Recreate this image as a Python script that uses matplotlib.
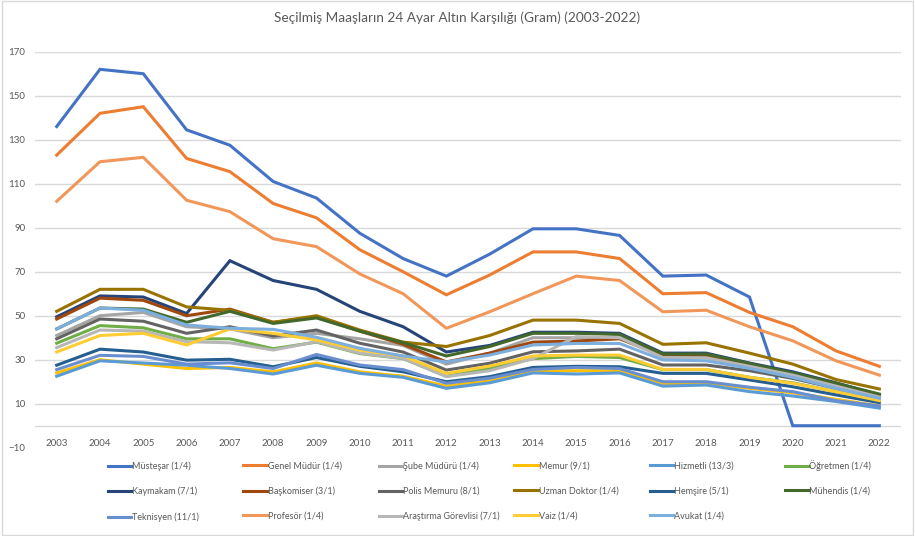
import matplotlib
matplotlib.use("Agg")
import matplotlib.pyplot as plt
from matplotlib.patches import Rectangle

plt.rcParams["font.family"] = ["Lato", "DejaVu Sans"]

years = [str(y) for y in range(2003, 2023)]

series_names = [
    "Müsteşar (1/4)", "Genel Müdür (1/4)", "Şube Müdürü (1/4)", "Memur (9/1)",
    "Hizmetli (13/3)", "Öğretmen (1/4)", "Kaymakam (7/1)", "Başkomiser (3/1)",
    "Polis Memuru (8/1)", "Uzman Doktor (1/4)", "Hemşire (5/1)", "Mühendis (1/4)",
    "Teknisyen (11/1)", "Profesör (1/4)", "Araştırma Görevlisi (7/1)", "Vaiz (1/4)",
    "Avukat (1/4)",
]

mustesar = [136, 162, 160, 134.5, 127.5, 111, 103.5, 87.5, 76, 68, 78, 89.5, 89.5, 86.5, 68, 68.5, 58.5, 0, 0, 0]
genel_mudur = [123, 142, 145, 121.5, 115.5, 101, 94.5, 80, 70, 59.5, 68.5, 79, 79, 76, 60, 60.5, 51.5, 45, 34, 27]
sube_muduru = [41, 50, 51.5, 45, 44, 40, 42, 39.5, 36.5, 28, 33, 40, 40, 40, 31.5, 31, 27, 23, 18, 13]
memur = [24, 30, 28, 26, 26.5, 24.5, 28.5, 24.5, 22.5, 18, 20.5, 25, 25, 25, 19, 19.5, 17, 15, 12, 9]
hizmetli = [22.5, 29.5, 28.5, 27.5, 26, 23.5, 27.5, 23.8, 22, 17, 19.5, 24, 23.5, 24, 18, 18.5, 15.5, 13.5, 11, 8]
ogretmen = [37.5, 45.5, 44.5, 39.5, 39.5, 35, 38, 32.8, 30.5, 22.5, 26, 30.5, 31.5, 31, 25.5, 25.5, 22, 19.5, 15.5, 11.5]
kaymakam = [49.5, 59, 58.5, 51, 75, 66, 62, 52, 45, 33.5, 36.5, 42.5, 42.5, 42, 33, 33, 28.5, 24.5, 19.5, 14]
baskomiser = [48.5, 58, 57, 50, 53, 47, 49.5, 43, 37, 29, 33, 38, 38.5, 39.5, 31.8, 31.8, 27.5, 23.5, 18.5, 13.5]
polis_memuru = [39.5, 48.5, 47.5, 42, 45, 40.8, 43.5, 37.5, 33.5, 25.3, 28.4, 33.6, 34, 34.8, 27.6, 27.6, 25, 21.5, 17, 12.5]
uzman_doktor = [52, 62, 62, 54, 52.5, 47, 50, 43.5, 38, 36, 41, 48, 48, 46.5, 37, 37.7, 33, 28, 21, 16.7]
hemsire = [27.5, 34.8, 33.5, 29.8, 30.2, 26.8, 31, 27, 24.5, 20, 22.3, 26.5, 27, 26.8, 23.8, 23.8, 20.8, 17.7, 14, 10.5]
muhendis = [44, 53.5, 53, 47, 52, 46.5, 49, 43, 37.8, 31.7, 36, 42, 42, 41.5, 32.6, 32.6, 28.3, 24, 19.3, 14.4]
teknisyen = [25.5, 32, 31.5, 28, 28.6, 26, 32.4, 27.6, 25.5, 19.3, 21.6, 25.6, 26.5, 26, 20, 20, 17.5, 15.5, 11.4, 9]
profesor = [102, 120, 122, 102.5, 97.3, 85, 81.4, 69, 60, 44.3, 51.8, 60, 68, 66, 51.8, 52.5, 45, 38.6, 29.5, 23]
arastirma_gorevlisi = [35.5, 43.5, 43, 38.2, 37.7, 34.4, 38.2, 33, 30.6, 22.3, 25, 30.5, 40.5, 40, 31, 30.9, 27, 23, 18, 13]
vaiz = [33.5, 41, 42, 36.7, 44, 42, 39, 34.4, 31.7, 23.8, 27.1, 31.7, 32.1, 32.1, 25.6, 25.6, 22, 19.3, 15.5, 11.4]
avukat = [44, 53.5, 52.5, 45.8, 44.3, 43.8, 40.2, 35.2, 31.7, 29, 32.1, 36.7, 37.4, 37.4, 29.9, 29.5, 26.1, 22, 17, 12.5]

all_values = [
    mustesar, genel_mudur, sube_muduru, memur, hizmetli, ogretmen, kaymakam,
    baskomiser, polis_memuru, uzman_doktor, hemsire, muhendis, teknisyen,
    profesor, arastirma_gorevlisi, vaiz, avukat,
]

# Excel office palette (accents, then darker / lighter variants)
colors = [
    "#4472C4", "#ED7D31", "#A5A5A5", "#FFC000", "#5B9BD5", "#70AD47",
    "#264478", "#9E480E", "#636363", "#997300", "#255E91", "#43682B",
    "#698ED0", "#F1975A", "#B7B7B7", "#FFCD33", "#7CAFDD",
]

text_color = "#595959"
grid_color = "#D9D9D9"

fig = plt.figure(figsize=(9.15, 5.36), dpi=100)
ax = fig.add_axes([0.0383, 0.1647, 0.9464, 0.7388])

x = list(range(len(years)))
handles = []
for vals, name, c in zip(all_values, series_names, colors):
    (h,) = ax.plot(x, vals, color=c, lw=2.2, label=name, solid_joinstyle="miter")
    handles.append(h)

ax.set_xlim(-0.5, len(years) - 0.5)
ax.set_ylim(-10, 170)
ax.set_yticks(range(-10, 171, 20))
ax.set_xticks(x)
ax.set_xticklabels(years)

for v in range(10, 171, 20):
    ax.axhline(v, color=grid_color, lw=1, zorder=0)
ax.axhline(0, color=grid_color, lw=1, zorder=0)

for s in ax.spines.values():
    s.set_visible(False)
ax.tick_params(axis="both", length=0, labelsize=7, labelcolor=text_color)
ax.tick_params(axis="x", pad=-6)
ax.tick_params(axis="y", pad=7)

fig.suptitle("Seçilmiş Maaşların 24 Ayar Altın Karşılığı (Gram) (2003-2022)",
             x=0.5, y=0.978, fontsize=9.8, color=text_color)

# legend: one small legend per column, rows go across
# (the Ö in "Öğretmen" makes that column's first row taller, so nudge it up)
col_dy = [0, 0, 0, 0, 0, 0.003]
for j in range(6):
    col = [handles[k] for k in (j, j + 6, j + 12) if k < len(handles)]
    leg = fig.legend(
        handles=col, labels=[h.get_label() for h in col],
        loc="upper left", bbox_to_anchor=(0.118 + 0.148 * j, 0.139 + col_dy[j]),
        frameon=False, fontsize=6.5, handlelength=2.6, handletextpad=0.1,
        labelspacing=1.75, borderaxespad=0, borderpad=0,
    )
    for t in leg.get_texts():
        t.set_color(text_color)

fig.patches.append(Rectangle((0.002, 0.002), 0.996, 0.996, transform=fig.transFigure,
                             fill=False, edgecolor=grid_color, lw=1))

fig.savefig("out.png", dpi=100)
